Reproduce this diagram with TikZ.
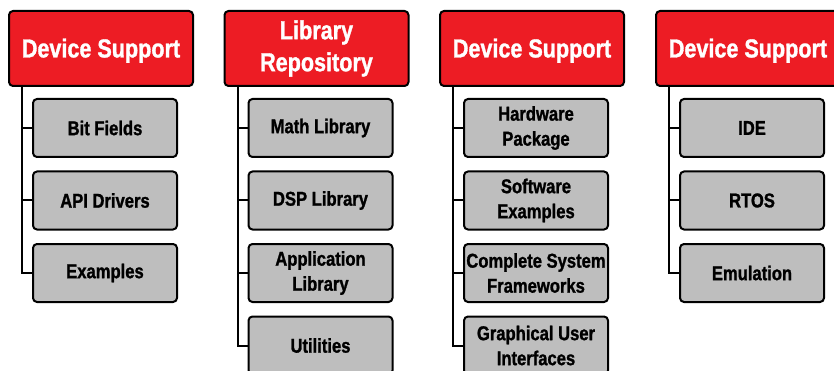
\documentclass[tikz,border=0pt]{standalone}
\usepackage{fontspec}
\setmainfont{Liberation Sans}[FakeStretch=0.83, BoldFeatures={FakeBold=1.2}]
\definecolor{tired}{HTML}{ED1C24}
\definecolor{tigray}{HTML}{BEBEBE}
\begin{document}
\begin{tikzpicture}[x=1pt,y=-1pt,
  head/.style={draw=black, line width=2pt, fill=tired, rounded corners=4pt,
    minimum width=184pt, minimum height=75pt, inner sep=0pt, text=white,
    align=center, font=\fontsize{26}{32}\selectfont\bfseries},
  oneline/.style={text depth=1pt},
  item/.style={draw=black, line width=2pt, fill=tigray, rounded corners=4pt,
    minimum width=144pt, minimum height=58pt, inner sep=0pt, text=black,
    align=center, font=\fontsize{20}{25}\selectfont\bfseries},
  link/.style={draw=black, line width=2pt}]
\useasboundingbox (0,0) rectangle (834,371);
\clip (0,0) rectangle (834,371);
% column 1
\node[head,oneline] (h1) at (101,48.5) {Device Support};
\node[item] (a1) at (105,128) {Bit Fields};
\node[item] (a2) at (105,200.5) {API Drivers};
\node[item] (a3) at (105,273) {Examples};
\draw[link] ([xshift=14pt]h1.south west) |- (a3.west);
\draw[link] (a1.west) -- +(-10,0);
\draw[link] (a2.west) -- +(-10,0);
% column 2
\node[head] (h2) at (316.5,48.5) {Library\\Repository};
\node[item] (b1) at (320.5,128) {Math Library};
\node[item] (b2) at (320.5,200.5) {DSP Library};
\node[item] (b3) at (320.5,273) {Application\\Library};
\node[item] (b4) at (320.5,345.5) {Utilities};
\draw[link] ([xshift=14pt]h2.south west) |- (b4.west);
\draw[link] (b1.west) -- +(-10,0);
\draw[link] (b2.west) -- +(-10,0);
\draw[link] (b3.west) -- +(-10,0);
% column 3
\node[head,oneline] (h3) at (532,48.5) {Device Support};
\node[item] (c1) at (536,128) {Hardware\\Package};
\node[item] (c2) at (536,200.5) {Software\\Examples};
\node[item] (c3) at (536,273) {Complete System\\Frameworks};
\node[item] (c4) at (536,345.5) {Graphical User\\Interfaces};
\draw[link] ([xshift=14pt]h3.south west) |- (c4.west);
\draw[link] (c1.west) -- +(-10,0);
\draw[link] (c2.west) -- +(-10,0);
\draw[link] (c3.west) -- +(-10,0);
% column 4
\node[head,oneline] (h4) at (748,48.5) {Device Support};
\node[item] (d1) at (752,128) {IDE};
\node[item] (d2) at (752,200.5) {RTOS};
\node[item] (d3) at (752,273) {Emulation};
\draw[link] ([xshift=14pt]h4.south west) |- (d3.west);
\draw[link] (d1.west) -- +(-10,0);
\draw[link] (d2.west) -- +(-10,0);
\end{tikzpicture}
\end{document}
